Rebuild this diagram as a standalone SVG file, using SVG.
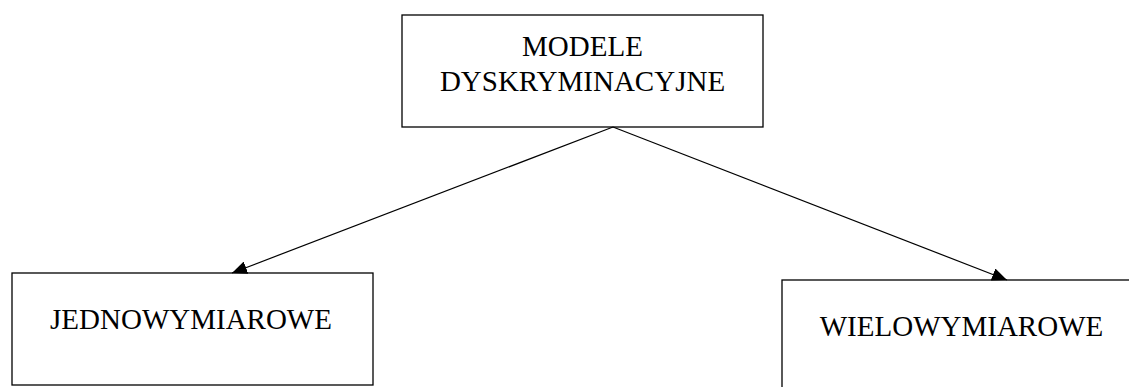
<svg xmlns="http://www.w3.org/2000/svg" width="1129" height="387" viewBox="0 0 1129 387">
<style>
.box{fill:#fff;stroke:#000;stroke-width:1.3}
.lbl{font-family:"Liberation Serif","Times New Roman",serif;font-size:29px;fill:#000;text-anchor:middle}
.edge{stroke:#000;stroke-width:1.2;fill:none}
</style>
<defs>
<marker id="ah" markerUnits="userSpaceOnUse" markerWidth="16" markerHeight="13" refX="15" refY="6.5" orient="auto">
<path d="M0,0 L15,6.5 L0,13 Z" fill="#000"/>
</marker>
</defs>
<rect width="1129" height="387" fill="#fff"/>
<g id="node-modele">
<rect class="box" x="402" y="15" width="361" height="112"/>
<text class="lbl" x="582.5" y="56">MODELE</text>
<text class="lbl" x="582.5" y="91">DYSKRYMINACYJNE</text>
</g>
<g id="node-jedno">
<rect class="box" x="12" y="273" width="361" height="112"/>
<text class="lbl" x="191" y="329">JEDNOWYMIAROWE</text>
</g>
<g id="node-wielo">
<rect class="box" x="782" y="280" width="400" height="130"/>
<text class="lbl" x="961.5" y="336">WIELOWYMIAROWE</text>
</g>
<g id="connectors">
<line class="edge" x1="613" y1="127" x2="232" y2="273" marker-end="url(#ah)"/>
<line class="edge" x1="613" y1="127" x2="1007" y2="280" marker-end="url(#ah)"/>
</g>
</svg>
